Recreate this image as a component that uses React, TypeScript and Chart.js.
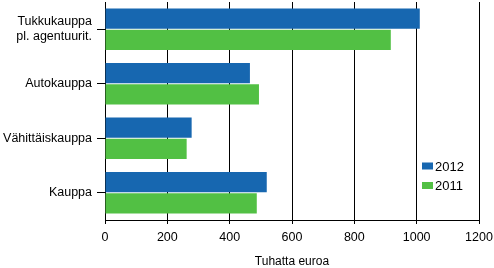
import React, { useEffect, useRef } from "react";
import { Chart, registerables } from "chart.js";

Chart.register(...registerables);

const categories: (string | string[])[] = [
  ["Tukkukauppa", "pl. agentuurit."],
  "Autokauppa",
  "Vähittäiskauppa",
  "Kauppa",
];
const series2012 = [1010, 465, 278, 519];
const series2011 = [917, 494, 262, 487];
const seriesLabels = ["2012", "2011"];
const xTicks = [0, 200, 400, 600, 800, 1000, 1200];
const axisTitle = "Tuhatta euroa";

const BLUE = "#1767b0";
const GREEN = "#52c044";
const FONT = "'Liberation Sans', Arial, sans-serif";

const insideLegend = {
  id: "insideLegend",
  afterDraw(chart: any) {
    const ctx = chart.ctx;
    ctx.save();
    ctx.font = `13px ${FONT}`;
    ctx.textBaseline = "middle";
    ctx.textAlign = "left";
    chart.data.datasets.forEach((ds: any, i: number) => {
      const y = 166 + i * 19.5;
      ctx.fillStyle = ds.backgroundColor;
      ctx.fillRect(422, y - 3.5, 11, 7);
      ctx.fillStyle = "#000";
      ctx.fillText(ds.label, 435, y + 1);
    });
    ctx.restore();
  },
};

export default function App() {
  const ref = useRef<HTMLCanvasElement>(null);
  useEffect(() => {
    document.body.style.margin = "0";
    const chart = new Chart(ref.current as HTMLCanvasElement, {
      type: "bar",
      data: {
        labels: categories as any,
        datasets: [
          { label: seriesLabels[0], data: series2012, backgroundColor: BLUE },
          { label: seriesLabels[1], data: series2011, backgroundColor: GREEN },
        ],
      },
      options: {
        indexAxis: "y",
        animation: false,
        responsive: false,
        devicePixelRatio: 1,
        categoryPercentage: 0.78,
        barPercentage: 0.96,
        layout: { padding: { top: 2, right: 15, bottom: 0, left: 0 } },
        plugins: {
          legend: { display: false },
          tooltip: { enabled: false },
        },
        scales: {
          x: {
            min: 0,
            max: 1200,
            afterBuildTicks: (s: any) => {
              s.ticks = xTicks.map((v) => ({ value: v }));
            },
            afterFit: (s: any) => {
              s.height = 48;
              s.paddingLeft = 0;
              s.paddingRight = 0;
              s.paddingTop = 0;
              s.paddingBottom = 0;
            },
            grid: {
              color: "#000",
              lineWidth: 1,
              drawTicks: true,
              tickLength: 4,
            },
            border: { display: true, color: "#000", width: 1 },
            ticks: {
              color: "#000",
              font: { family: FONT, size: 12.5 },
              padding: 6,
              maxRotation: 0,
              callback: (v: any) => String(v),
            },
            title: {
              display: true,
              text: axisTitle,
              color: "#000",
              font: { family: FONT, size: 12 },
              padding: { top: 0, bottom: -1 },
            },
          },
          y: {
            afterFit: (s: any) => {
              s.width = 105;
              s.paddingTop = 0;
              s.paddingBottom = 0;
              s.paddingLeft = 0;
              s.paddingRight = 0;
            },
            grid: {
              offset: false,
              drawOnChartArea: false,
              drawTicks: true,
              tickLength: 8,
              color: "#000",
            },
            border: { display: true, color: "#000", width: 1 },
            ticks: {
              color: "#000",
              font: { family: FONT, size: 12.5 },
              padding: 5,
            },
          },
        },
      },
      plugins: [insideLegend],
    });
    return () => chart.destroy();
  }, []);
  return (
    <div style={{ width: 494, height: 268 }}>
      <canvas ref={ref} width={494} height={268} />
    </div>
  );
}
